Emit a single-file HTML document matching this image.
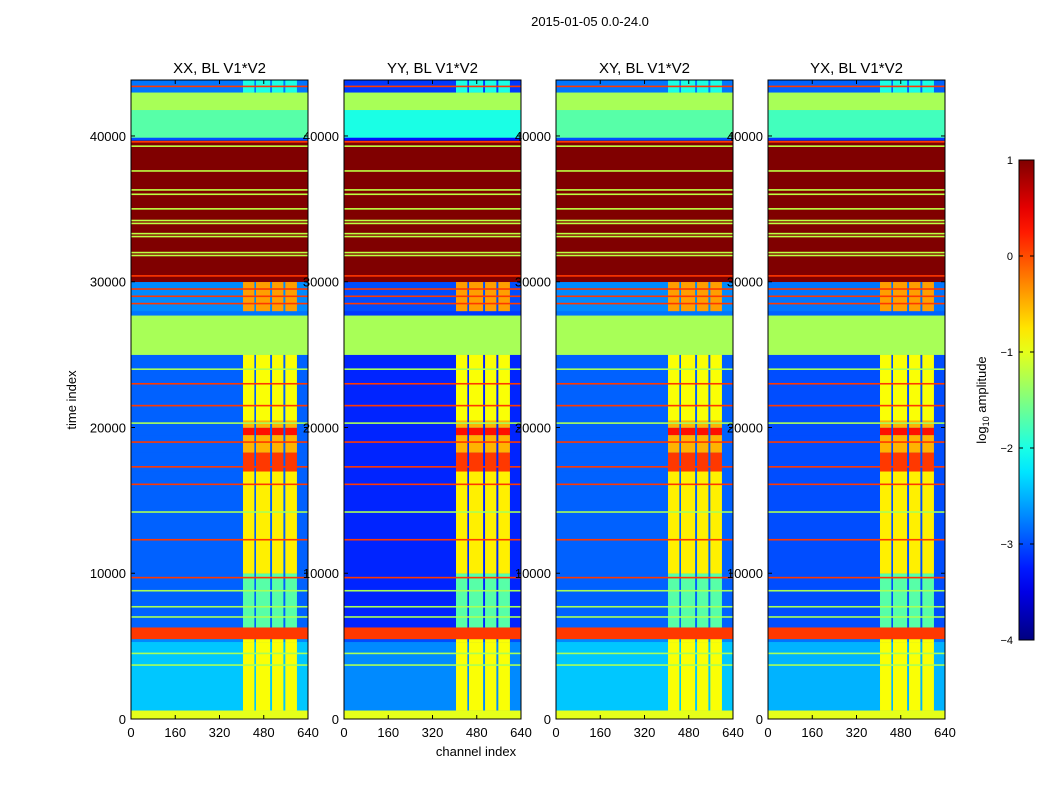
<!DOCTYPE html>
<html><head><meta charset="utf-8">
<style>
body{margin:0;background:#fff;width:1050px;height:800px;overflow:hidden;font-family:"Liberation Sans",sans-serif;}
svg text{font-family:"Liberation Sans",sans-serif;}
</style></head>
<body>
<svg id="fig" width="1050" height="800" xmlns="http://www.w3.org/2000/svg">
<text x="590" y="26" font-size="13" text-anchor="middle">2015-01-05 0.0-24.0</text>
<text x="476" y="756" font-size="13" text-anchor="middle">channel index</text>
<text x="76" y="400" font-size="13" text-anchor="middle" transform="rotate(-90 76 400)">time index</text>
<g id="panels"></g>
<g id="cbar"></g>
</svg>
<script>
// ---- data ----
const panelTitles = ["XX, BL V1*V2","YY, BL V1*V2","XY, BL V1*V2","YX, BL V1*V2"];
const panelBgOffset = [0, -0.3, 0, -0.1];
const panelStripeOffset = [0, 0, 0, 0];
// time bands: [start, end, background log10 amp, stripe log10 amp (null = none)]
const bandStart = [0,   600,  5300, 5500, 6300, 10000, 17000, 18300, 19500, 20000, 20500, 25000, 27700, 28000, 30000, 39700, 39900, 41800, 43000];
const bandEnd   = [600, 5300, 5500, 6300, 10000,17000, 18300, 19500, 20000, 20500, 25000, 27700, 28000, 30000, 39700, 39900, 41800, 43000, 43840];
const bandBg    = [-1.0,-2.4,-2.7, 0.1, -2.9, -2.9,  -2.9,  -2.9,  -2.9,  -2.9,  -2.9,  -1.3,  -2.8,  -2.7,  1.0,  -3.0,  -1.7,  -1.3,  -2.8];
const bandStripe= [-1.0,-0.9,-0.9,0.1, -1.7, -0.8,   0.1,  -0.5,   0.3,  -0.5,  -0.9,  null,  null,   -0.4, null, null,  null,  null,  -2.0];
// channel stripes (channel index ranges)
const stripeStart = [405, 452, 510, 558];
const stripeEnd   = [446, 503, 551, 600];
// horizontal lines: [time, value]
const lineTime = [3700,4500,7000,7700,8800,9700,12300,14200,16100,17300,19000,20300,21500,23000,24000,28500,29000,29500,30400,31800,32000,33100,33300,34000,34200,35000,36000,36300,37600,39300,39600,43400];
const lineVal  = [-1.3,-1.3,-1.3,-1.3,-1.3, 0.1,  0.1,-1.3,  0.1,  0.1,  0.1, -1.3,  0.1,  0.1, -1.3,  0.1,  0.1,  0.1,  0.1, -1.2, -1.2, -1.2,-1.2,-1.2,-1.2,-1.2,-1.2,-1.2,-1.2,-1.2, 0.1, 0.1];
const xTicks = [0,160,320,480,640];
const yTicks = [0,10000,20000,30000,40000];
const cbTicks = [1,0,-1,-2,-3,-4];

// ---- geometry ----
const panelX = [131,344,556,768], PW=177, PT=80, PB=719;
const TMAX=43840, CMAX=640, VMIN=-4, VMAX=1;
function jet(v){
  let t=Math.max(0,Math.min(1,(v-VMIN)/(VMAX-VMIN)));
  const f=x=>Math.max(0,Math.min(1,x));
  const r=f(1.5-Math.abs(4*t-3)), g=f(1.5-Math.abs(4*t-2)), b=f(1.5-Math.abs(4*t-1));
  return `rgb(${Math.round(r*255)},${Math.round(g*255)},${Math.round(b*255)})`;
}
const NS="http://www.w3.org/2000/svg";
function mk(tag,attrs,parent){const e=document.createElementNS(NS,tag);for(const k in attrs)e.setAttribute(k,attrs[k]);parent.appendChild(e);return e;}
const panels=document.getElementById('panels');
panelX.forEach((px,pi)=>{
  const xs=c=>px+c/CMAX*PW;
  const ys=t=>PB-t/TMAX*(PB-PT);
  const g=mk('g',{},panels);
  
  
  for(let i=0;i<bandStart.length;i++){
    const r=mk('rect',{x:px,y:ys(bandEnd[i]),width:PW,height:ys(bandStart[i])-ys(bandEnd[i])+0.3,fill:jet(bandBg[i]+(bandBg[i]<-1.5?panelBgOffset[pi]:0))},g);
    
    
    if(bandStripe[i]!==null){
      for(let s=0;s<stripeStart.length;s++){
        const sr=mk('rect',{x:xs(stripeStart[s]),y:ys(bandEnd[i]),width:xs(stripeEnd[s])-xs(stripeStart[s]),height:ys(bandStart[i])-ys(bandEnd[i])+0.3,fill:jet(bandStripe[i]+panelStripeOffset[pi])},g);
        
        
      }
    }
  }
  for(let i=0;i<lineTime.length;i++){
    const l=mk('rect',{x:px,y:ys(lineTime[i])-0.8,width:PW,height:1.6,fill:jet(lineVal[i])},g);
    
    
  }
  const fr=mk('rect',{x:px,y:PT,width:PW,height:PB-PT,fill:'none',stroke:'#000','stroke-width':1},g);
  
  
  const tt=mk('text',{x:px+PW/2,y:PT-7,'font-size':15,'text-anchor':'middle'},g);
  tt.textContent=panelTitles[pi];
  
  
  xTicks.forEach(v=>{
    mk('line',{x1:xs(v),x2:xs(v),y1:PB,y2:PB-4,stroke:'#000'},g);
    mk('line',{x1:xs(v),x2:xs(v),y1:PT,y2:PT+4,stroke:'#000'},g);
    const t=mk('text',{x:xs(v),y:PB+18,'font-size':13,'text-anchor':'middle'},g);
    t.textContent=v;
    
    
  });
  yTicks.forEach(v=>{
    mk('line',{x1:px,x2:px+4,y1:ys(v),y2:ys(v),stroke:'#000'},g);
    mk('line',{x1:px+PW,x2:px+PW-4,y1:ys(v),y2:ys(v),stroke:'#000'},g);
    const t=mk('text',{x:px-5,y:ys(v)+5,'font-size':13,'text-anchor':'end'},g);
    t.textContent=v;
    
    
  });
});
// colorbar
const cb=document.getElementById('cbar');
const CX=1019,CW=15,CT=160,CB=640;
const cy=v=>CB-(v-VMIN)/(VMAX-VMIN)*(CB-CT);
const defs=mk('defs',{},cb);
const grad=mk('linearGradient',{id:'jetg',x1:0,y1:1,x2:0,y2:0},defs);
for(let i=0;i<=20;i++){mk('stop',{offset:i/20,'stop-color':jet(VMIN+i/20*(VMAX-VMIN))},grad);}
mk('rect',{x:CX,y:CT,width:CW,height:CB-CT,fill:'url(#jetg)',stroke:'#000'},cb);
cbTicks.forEach(v=>{
  mk('line',{x1:CX,x2:CX+4,y1:cy(v),y2:cy(v),stroke:'#000'},cb);
  mk('line',{x1:CX+CW,x2:CX+CW-4,y1:cy(v),y2:cy(v),stroke:'#000'},cb);
  const t=mk('text',{x:CX-6,y:cy(v)+4,'font-size':11,'text-anchor':'end'},cb);
  t.textContent=v<0?'\u2212'+(-v):v;
  
  
});
const cl=mk('text',{x:986,y:400,'font-size':13,'text-anchor':'middle',transform:'rotate(-90 986 400)'},cb);
cl.innerHTML='log<tspan font-size="9" dy="3">10</tspan><tspan dy="-3"> amplitude</tspan>';


</script>
</body></html>
